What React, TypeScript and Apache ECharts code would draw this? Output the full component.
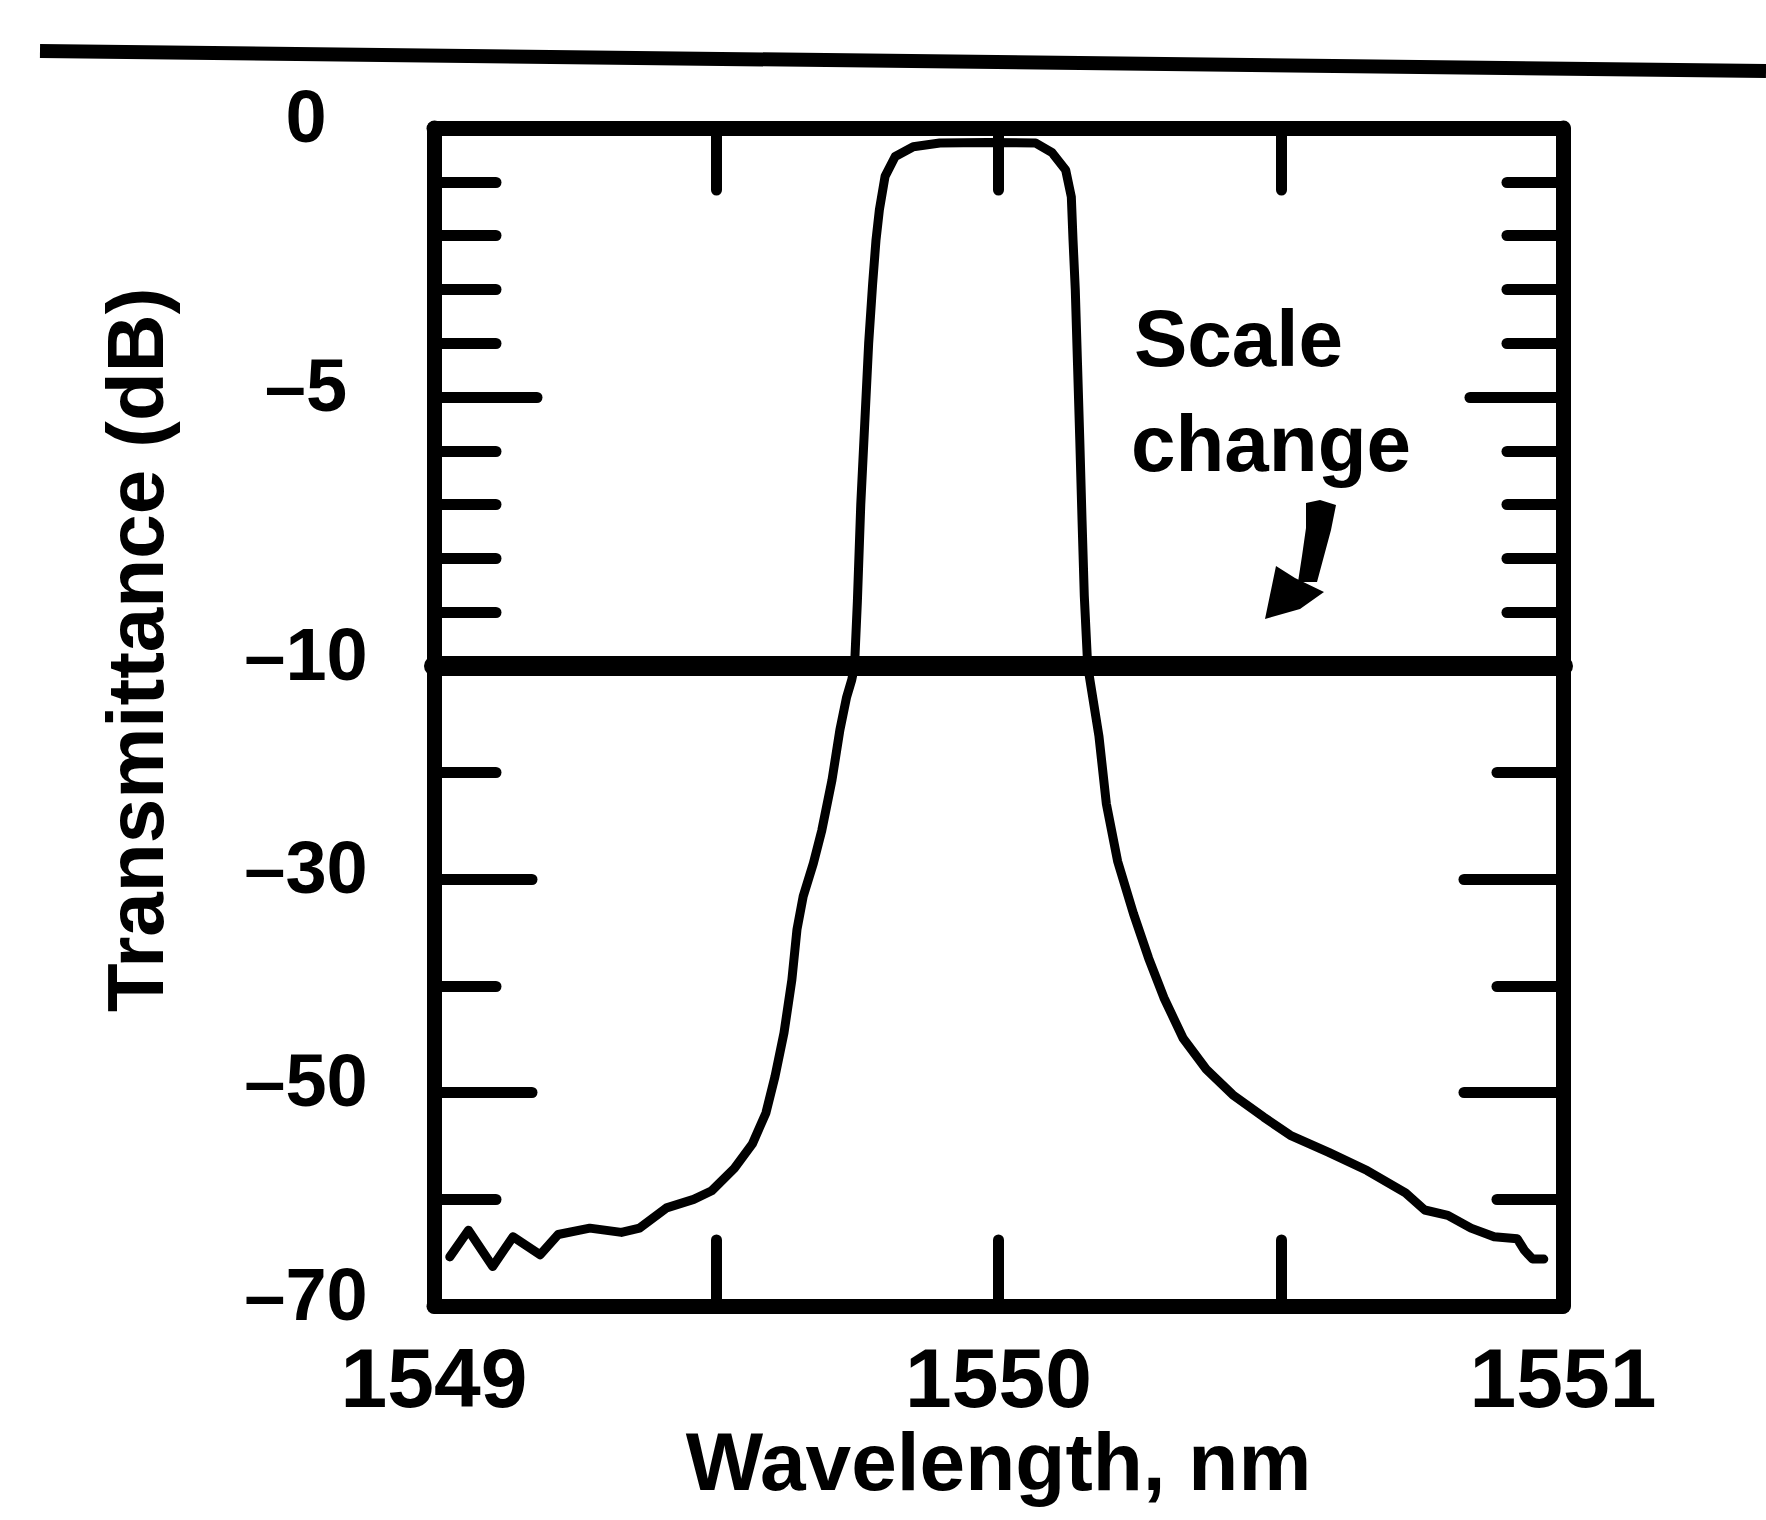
import React, { useEffect, useRef } from "react";
import * as echarts from "echarts";

// Measured filter transmission spectrum
const wavelengthNm = [
  1549.028, 1549.061, 1549.104, 1549.14, 1549.188, 1549.22, 1549.276, 1549.332, 1549.364,
  1549.412, 1549.46, 1549.492, 1549.532, 1549.564, 1549.588, 1549.604, 1549.62, 1549.634,
  1549.643, 1549.654, 1549.672, 1549.687, 1549.705, 1549.719, 1549.731, 1549.74, 1549.745,
  1549.75, 1549.756, 1549.763, 1549.77, 1549.777, 1549.783, 1549.789, 1549.799, 1549.817,
  1549.849, 1549.896, 1549.98, 1550.066, 1550.095, 1550.119, 1550.129, 1550.132, 1550.136,
  1550.14, 1550.144, 1550.148, 1550.152, 1550.158, 1550.178, 1550.191, 1550.211, 1550.239,
  1550.266, 1550.293, 1550.327, 1550.368, 1550.415, 1550.47, 1550.517, 1550.585, 1550.653,
  1550.721, 1550.755, 1550.796, 1550.837, 1550.878, 1550.919, 1550.932, 1550.946, 1550.966,
];
const transmittanceDb = [
  -65.4, -62.9, -66.3, -63.5, -65.2, -63.3, -62.7, -63.1, -62.7,
  -60.8, -60.0, -59.2, -57.1, -54.8, -51.9, -48.5, -44.4, -39.4,
  -34.7, -31.6, -28.5, -25.4, -20.7, -16.0, -12.9, -11.3, -10.0,
  -8.8, -7.0, -5.5, -4.0, -2.9, -2.08, -1.52, -0.9, -0.53,
  -0.35, -0.28, -0.27, -0.28, -0.46, -0.78, -1.28, -2.08, -3.0,
  -4.4, -5.8, -7.3, -8.7, -10.0, -16.6, -22.9, -28.3, -33.2,
  -37.4, -41.1, -44.9, -47.8, -50.2, -52.3, -54.0, -55.6, -57.3,
  -59.4, -61.0, -61.5, -62.7, -63.5, -63.7, -64.8, -65.6, -65.6,
];

// Axis ticks and labels
const xTickValues = [1549.5, 1550, 1550.5];
const xLabelValues = [1549, 1550, 1551];
const upperMinorTicks = [-1, -2, -3, -4, -6, -7, -8, -9];
const upperMajorTicks = [-5];
const upperLabels = [0, -5, -10];
const lowerMinorTicks = [-20, -40, -60];
const lowerMajorTicks = [-30, -50];
const lowerLabels = [-30, -50, -70];

const FONT = '"Liberation Sans", Arial, Helvetica, sans-serif';
const INK = "#000";
const FRAME = 15;
const TICK_W = 11;

const fmtDb = (v: number) => (v === 0 ? "0" : "\u2013" + Math.abs(v));

const yTicks = (
  grid: number,
  side: "left" | "right",
  min: number,
  max: number,
  ticks: number[],
  len: number,
  withLine: boolean,
  labels?: number[]
) => ({
  type: "value",
  gridIndex: grid,
  position: side,
  min,
  max,
  splitLine: { show: false },
  axisLine: { show: withLine, onZero: false, lineStyle: { color: INK, width: FRAME } },
  axisTick: {
    show: true,
    inside: true,
    length: len,
    customValues: ticks,
    lineStyle: { color: INK, width: TICK_W, cap: "round" },
  },
  axisLabel: labels
    ? {
        show: true,
        customValues: labels,
        formatter: fmtDb,
        color: INK,
        fontFamily: FONT,
        fontWeight: "bold",
        fontSize: 74,
        align: "center",
        verticalAlign: "bottom",
        lineHeight: 24,
        margin: 128,
      }
    : { show: false },
});

export default function App() {
  const ref = useRef<HTMLDivElement>(null);

  useEffect(() => {
    if (!ref.current) return;
    const chart = echarts.init(ref.current, undefined, { renderer: "svg" });
    const points = wavelengthNm.map((w, i) => [w, transmittanceDb[i]]);

    const lineSeries = (xi: number, yi: number) => ({
      type: "line",
      xAxisIndex: xi,
      yAxisIndex: yi,
      data: points,
      symbol: "none",
      showSymbol: false,
      clip: true,
      z: 3,
      lineStyle: { color: INK, width: 9, join: "round", cap: "round" },
    });

    chart.setOption({
      animation: false,
      backgroundColor: "#fff",
      grid: [
        { left: 434, top: 128, width: 1129, height: 538 },
        { left: 434, top: 666, width: 1129, height: 640 },
      ],
      xAxis: [
        {
          type: "value",
          gridIndex: 0,
          position: "top",
          min: 1549,
          max: 1551,
          splitLine: { show: false },
          axisLine: { onZero: false, lineStyle: { color: INK, width: FRAME } },
          axisTick: {
            inside: true,
            length: 62,
            customValues: xTickValues,
            lineStyle: { color: INK, width: TICK_W, cap: "round" },
          },
          axisLabel: { show: false },
        },
        {
          type: "value",
          gridIndex: 0,
          position: "bottom",
          min: 1549,
          max: 1551,
          splitLine: { show: false },
          axisLine: { onZero: false, lineStyle: { color: INK, width: 20 } },
          axisTick: { show: false },
          axisLabel: { show: false },
        },
        {
          type: "value",
          gridIndex: 1,
          position: "bottom",
          min: 1549,
          max: 1551,
          splitLine: { show: false },
          axisLine: { onZero: false, lineStyle: { color: INK, width: FRAME } },
          axisTick: {
            inside: true,
            length: 66,
            customValues: xTickValues,
            lineStyle: { color: INK, width: TICK_W, cap: "round" },
          },
          axisLabel: {
            customValues: xLabelValues,
            formatter: (v: number) => String(v),
            color: INK,
            fontFamily: FONT,
            fontWeight: "bold",
            fontSize: 84,
            margin: 30,
          },
          name: "Wavelength, nm",
          nameLocation: "middle",
          nameGap: 104,
          nameTextStyle: { color: INK, fontFamily: FONT, fontWeight: "bold", fontSize: 82 },
        },
      ],
      yAxis: [
        yTicks(0, "left", -10, 0, upperMinorTicks, 62, true, upperLabels),
        yTicks(0, "left", -10, 0, upperMajorTicks, 103, false),
        yTicks(0, "right", -10, 0, upperMinorTicks, 56, true),
        yTicks(0, "right", -10, 0, upperMajorTicks, 93, false),
        yTicks(1, "left", -70, -10, lowerMinorTicks, 62, true, lowerLabels),
        yTicks(1, "left", -70, -10, lowerMajorTicks, 98, false),
        yTicks(1, "right", -70, -10, lowerMinorTicks, 66, true),
        yTicks(1, "right", -70, -10, lowerMajorTicks, 99, false),
      ],
      series: [lineSeries(0, 0), lineSeries(2, 4)],
      graphic: [
        {
          type: "line",
          shape: { x1: 40, y1: 51, x2: 1766, y2: 71 },
          style: { stroke: INK, lineWidth: 14 },
        },
        {
          type: "text",
          x: 135,
          y: 650,
          rotation: Math.PI / 2,
          style: {
            text: "Transmittance (dB)",
            fill: INK,
            fontFamily: FONT,
            fontWeight: "bold",
            fontSize: 80,
            align: "center",
            verticalAlign: "middle",
          },
        },
        {
          type: "text",
          x: 1134,
          y: 338,
          style: {
            text: "Scale",
            fill: INK,
            fontFamily: FONT,
            fontWeight: "bold",
            fontSize: 80,
            align: "left",
            verticalAlign: "middle",
          },
        },
        {
          type: "text",
          x: 1131,
          y: 443,
          style: {
            text: "change",
            fill: INK,
            fontFamily: FONT,
            fontWeight: "bold",
            fontSize: 80,
            align: "left",
            verticalAlign: "middle",
          },
        },
        // "scale change" pointer: tapered shaft plus a notched head
        {
          type: "polygon",
          shape: {
            points: [
              [1306, 503], [1320, 500], [1336, 505], [1331, 530], [1324, 556],
              [1317, 582], [1298, 582], [1302, 556], [1306, 528],
            ],
          },
          style: { fill: INK },
        },
        {
          type: "polygon",
          shape: {
            points: [[1265, 619], [1276, 566], [1295, 578], [1324, 592], [1300, 609]],
          },
          style: { fill: INK },
        },
      ],
    });

    return () => chart.dispose();
  }, []);

  return (
    <div
      ref={ref}
      style={{ position: "fixed", left: 0, top: 0, width: 1766, height: 1520, background: "#fff" }}
    />
  );
}
